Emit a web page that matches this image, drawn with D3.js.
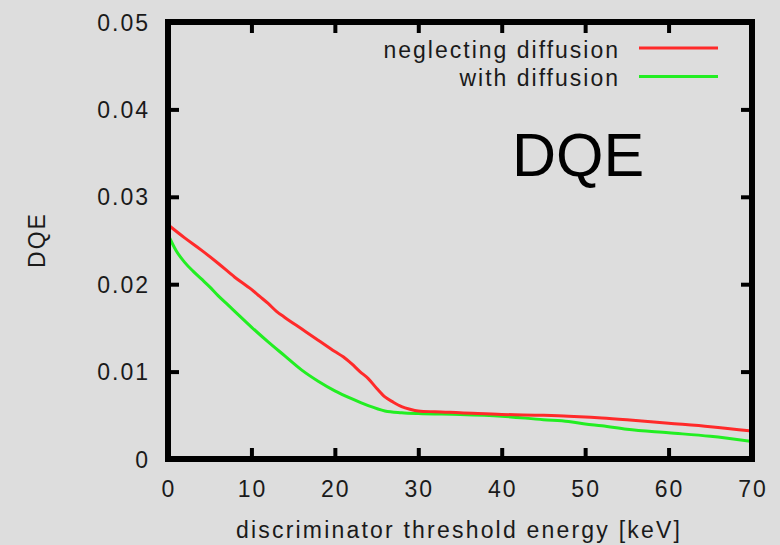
<!DOCTYPE html>
<html>
<head>
<meta charset="utf-8">
<script src="https://cdn.jsdelivr.net/npm/d3@7/dist/d3.min.js"></script>
<style>
  html, body { margin: 0; padding: 0; background: #dddddd; }
  svg { display: block; }
  text { font-family: "Liberation Sans", Arial, Helvetica, sans-serif; fill: #1a1a1a; }
</style>
</head>
<body>
<svg id="chart" width="780" height="545"></svg>
<script>
// Threshold energy (keV) and DQE for the two detector models
const energyNeglect = [0, 2, 4, 6, 8, 10, 11, 12, 13, 14, 16, 18, 20, 21, 22, 23, 24, 25, 26, 27, 28, 29, 30, 32, 35, 40, 45, 48, 50, 52, 55, 60, 65, 70];
const dqeNeglect    = [0.0268, 0.0253, 0.0239, 0.0224, 0.0208, 0.0194, 0.0186, 0.0178, 0.0169, 0.0162, 0.0149, 0.0136, 0.0123, 0.0117, 0.0109, 0.0100, 0.0092, 0.0081, 0.0071, 0.0065, 0.0060, 0.0057, 0.0055, 0.0054, 0.0053, 0.0051, 0.0050, 0.0049, 0.0048, 0.0047, 0.0045, 0.0041, 0.0037, 0.0032];

const energyDiffusion = [0, 1, 2, 3, 4, 5, 6, 7, 8, 10, 12, 14, 16, 18, 20, 22, 24, 26, 28, 30, 35, 40, 45, 48, 50, 52, 55, 60, 65, 70];
const dqeDiffusion    = [0.0257, 0.0238, 0.0225, 0.0215, 0.0206, 0.0197, 0.0187, 0.0178, 0.0169, 0.0151, 0.0134, 0.0118, 0.0102, 0.0089, 0.0078, 0.0069, 0.0061, 0.0055, 0.0053, 0.0052, 0.0051, 0.0049, 0.0045, 0.0043, 0.0040, 0.0038, 0.0034, 0.0030, 0.0026, 0.0020];

const xTicks = [0, 10, 20, 30, 40, 50, 60, 70];
const yTicks = [0, 0.01, 0.02, 0.03, 0.04, 0.05];

const seriesNames = ["neglecting diffusion", "with diffusion"];
const seriesColors = ["#ff2a2a", "#22ee22"];

const svg = d3.select("#chart");
const plotLeft = 168, plotRight = 752, plotTop = 22, plotBottom = 459;

const x = d3.scaleLinear().domain([0, 70]).range([plotLeft, plotRight]);
const y = d3.scaleLinear().domain([0, 0.05]).range([plotBottom, plotTop]);

svg.append("rect").attr("width", 780).attr("height", 545).attr("fill", "#dddddd");

svg.append("clipPath").attr("id", "plotClip")
  .append("rect").attr("x", plotLeft).attr("y", plotTop)
  .attr("width", plotRight - plotLeft).attr("height", plotBottom - plotTop);

const series = [
  { name: seriesNames[0], color: seriesColors[0], xs: energyNeglect, ys: dqeNeglect },
  { name: seriesNames[1], color: seriesColors[1], xs: energyDiffusion, ys: dqeDiffusion }
];

const line = d3.line()
  .x(d => x(d[0]))
  .y(d => y(d[1]))
  .curve(d3.curveMonotoneX);

const plot = svg.append("g").attr("clip-path", "url(#plotClip)");
// draw the diffusion curve first so the red one sits on top where they overlap
[series[1], series[0]].forEach(s => {
  plot.append("path")
    .datum(s.xs.map((e, i) => [e, s.ys[i]]))
    .attr("fill", "none")
    .attr("stroke", s.color)
    .attr("stroke-width", 3)
    .attr("stroke-linejoin", "round")
    .attr("d", line);
});

// Axes: ticks on all four sides, pointing inward
const tickLen = 11;
const tickStyle = sel => sel.call(g => g.select(".domain").remove())
  .call(g => g.selectAll(".tick line").attr("stroke", "#000").attr("stroke-width", 4));

const innerX = xTicks.filter(t => t > 0 && t < 70);
const innerY = yTicks.filter(t => t > 0 && t < 0.05);

svg.append("g").attr("transform", `translate(0,${plotBottom})`)
  .call(d3.axisTop(x).tickValues(innerX).tickSize(tickLen).tickFormat(""))
  .call(tickStyle);
svg.append("g").attr("transform", `translate(0,${plotTop})`)
  .call(d3.axisBottom(x).tickValues(innerX).tickSize(tickLen).tickFormat(""))
  .call(tickStyle);
svg.append("g").attr("transform", `translate(${plotLeft},0)`)
  .call(d3.axisRight(y).tickValues(innerY).tickSize(tickLen).tickFormat(""))
  .call(tickStyle);
svg.append("g").attr("transform", `translate(${plotRight},0)`)
  .call(d3.axisLeft(y).tickValues(innerY).tickSize(tickLen).tickFormat(""))
  .call(tickStyle);

// Tick labels
const labelFont = 23, spacing = "2px";
svg.append("g").selectAll("text").data(xTicks).join("text")
  .attr("x", d => x(d) + 1)
  .attr("y", 497)
  .attr("text-anchor", "middle")
  .attr("font-size", labelFont)
  .attr("letter-spacing", spacing)
  .text(d => d);

svg.append("g").selectAll("text").data(yTicks).join("text")
  .attr("x", 150)
  .attr("y", d => y(d) + 8.5)
  .attr("text-anchor", "end")
  .attr("font-size", labelFont)
  .attr("letter-spacing", spacing)
  .text(d => d === 0 ? "0" : d3.format(".2f")(d));

// Frame
svg.append("rect")
  .attr("x", plotLeft).attr("y", plotTop)
  .attr("width", plotRight - plotLeft).attr("height", plotBottom - plotTop)
  .attr("fill", "none").attr("stroke", "#000").attr("stroke-width", 6);

// Axis titles
svg.append("text")
  .attr("x", 459).attr("y", 538)
  .attr("text-anchor", "middle")
  .attr("font-size", labelFont)
  .attr("letter-spacing", "2.2px")
  .text("discriminator threshold energy [keV]");

svg.append("text")
  .attr("transform", "translate(45,240) rotate(-90)")
  .attr("text-anchor", "middle")
  .attr("font-size", labelFont)
  .attr("letter-spacing", spacing)
  .text("DQE");

// Legend
series.forEach((s, i) => {
  const ly = 48 + i * 28.5;
  svg.append("text")
    .attr("x", 620).attr("y", ly + 9.5)
    .attr("text-anchor", "end")
    .attr("font-size", labelFont)
    .attr("letter-spacing", spacing)
    .text(s.name);
  svg.append("line")
    .attr("x1", 639).attr("x2", 718)
    .attr("y1", ly).attr("y2", ly)
    .attr("stroke", s.color).attr("stroke-width", 3);
});

// Panel title
svg.append("text")
  .attr("x", 512).attr("y", 176)
  .attr("font-size", 61)
  .style("fill", "#000")
  .text("DQE");
</script>
</body>
</html>
